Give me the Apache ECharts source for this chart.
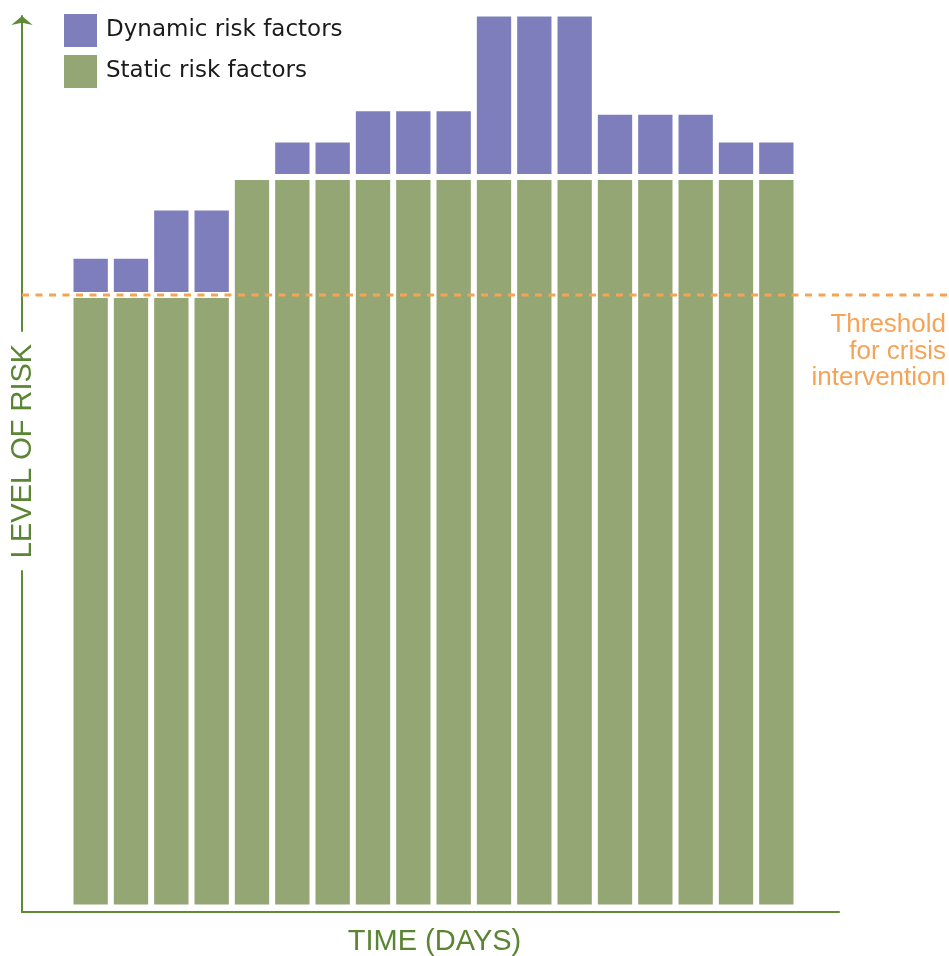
<!DOCTYPE html>
<html>
<head>
<meta charset="utf-8">
<script src="https://cdn.jsdelivr.net/npm/echarts@6/dist/echarts.min.js"></script>
<style>
html,body{margin:0;padding:0;background:#fff;}
#chart{width:949px;height:956px;}
</style>
</head>
<body>
<div id="chart"></div>
<script>
const days = ['1','2','3','4','5','6','7','8','9','10','11','12','13','14','15','16','17','18'];
const staticRisk = [68.5,68.5,68.5,68.5,81.7,81.7,81.7,81.7,81.7,81.7,81.7,81.7,81.7,81.7,81.7,81.7,81.7,81.7];
const dynamicRisk = [4.4,4.4,9.8,9.8,0,4.2,4.2,7.7,7.7,7.7,18.3,18.3,18.3,7.3,7.3,7.3,4.2,4.2];
const threshold = 68.5;
const seriesNames = ['Dynamic risk factors','Static risk factors'];
const axisTitles = {x:'TIME (DAYS)', y:'LEVEL OF RISK'};
const thresholdLines = ['Threshold','for crisis','intervention'];

const GREEN_AXIS = '#5f8b36';
const GREEN_TEXT = '#5a8532';
const PURPLE = '#7f7ebd';
const GREEN = '#93a673';
const ORANGE = '#f7a356';

const thresholdGraphics = thresholdLines.map((t, i) => ({
  type:'text', x:946, y:325 + i * 26.5, z:100,
  style:{text:t, font:'26px "Liberation Sans", Arial, sans-serif', fill:ORANGE,
    align:'right', verticalAlign:'middle'}
}));

const chart = echarts.init(document.getElementById('chart'), null, {renderer:'canvas'});
chart.setOption({
  animation:false,
  backgroundColor:'#fff',
  legend:{
    data:seriesNames,
    orient:'vertical',
    left:64, top:14, padding:0,
    icon:'rect',
    itemWidth:33, itemHeight:33, itemGap:8,
    itemStyle:{borderWidth:0},
    textStyle:{fontFamily:'DejaVu Sans', fontSize:23, color:'#1a1a1a', padding:[0,0,0,4]}
  },
  grid:[
    {left:70.5, width:726, top:13.5, height:894},
    {left:22, right:0, top:13.5, height:894},
    {left:22, right:110, top:16, bottom:44}
  ],
  xAxis:[
    {gridIndex:0, type:'category', data:days, show:false},
    {gridIndex:1, type:'value', min:0, max:1, show:false},
    {gridIndex:2, type:'value', min:0, max:1,
      axisLine:{show:true, lineStyle:{color:GREEN_AXIS, width:2}},
      axisTick:{show:false}, axisLabel:{show:false}, splitLine:{show:false}}
  ],
  yAxis:[
    {gridIndex:0, type:'value', min:0, max:100, show:false},
    {gridIndex:1, type:'value', min:0, max:100, show:false},
    {gridIndex:2, type:'value', min:0, max:1,
      axisLine:{show:true, symbol:['none','arrow'], symbolSize:[16,9], lineStyle:{color:GREEN_AXIS, width:2}},
      axisTick:{show:false}, axisLabel:{show:false}, splitLine:{show:false}}
  ],
  series:[
    {name:seriesNames[1], type:'bar', stack:'risk', xAxisIndex:0, yAxisIndex:0,
      data:staticRisk, barCategoryGap:'0%',
      itemStyle:{color:GREEN, borderColor:'#fff', borderWidth:3}},
    {name:seriesNames[0], type:'bar', stack:'risk', xAxisIndex:0, yAxisIndex:0,
      data:dynamicRisk, barCategoryGap:'0%',
      itemStyle:{color:PURPLE, borderColor:'#fff', borderWidth:3}},
    {name:'threshold', type:'line', xAxisIndex:1, yAxisIndex:1,
      data:[[0,threshold],[1,threshold]], symbol:'none', silent:true,
      lineStyle:{color:ORANGE, width:3, type:[7,6.5]}}
  ],
  graphic:[
    {type:'text', x:22.5, y:451, rotation:Math.PI/2, z:100,
      style:{text:axisTitles.y, font:'29px "Liberation Sans", Arial, sans-serif', fill:GREEN_TEXT,
        align:'center', verticalAlign:'middle', backgroundColor:'#fff', padding:[0,12]}},
    {type:'text', x:434.5, y:942, z:100,
      style:{text:axisTitles.x, font:'29px "Liberation Sans", Arial, sans-serif', fill:GREEN_TEXT,
        align:'center', verticalAlign:'middle'}}
  ].concat(thresholdGraphics)
});
</script>
</body>
</html>
